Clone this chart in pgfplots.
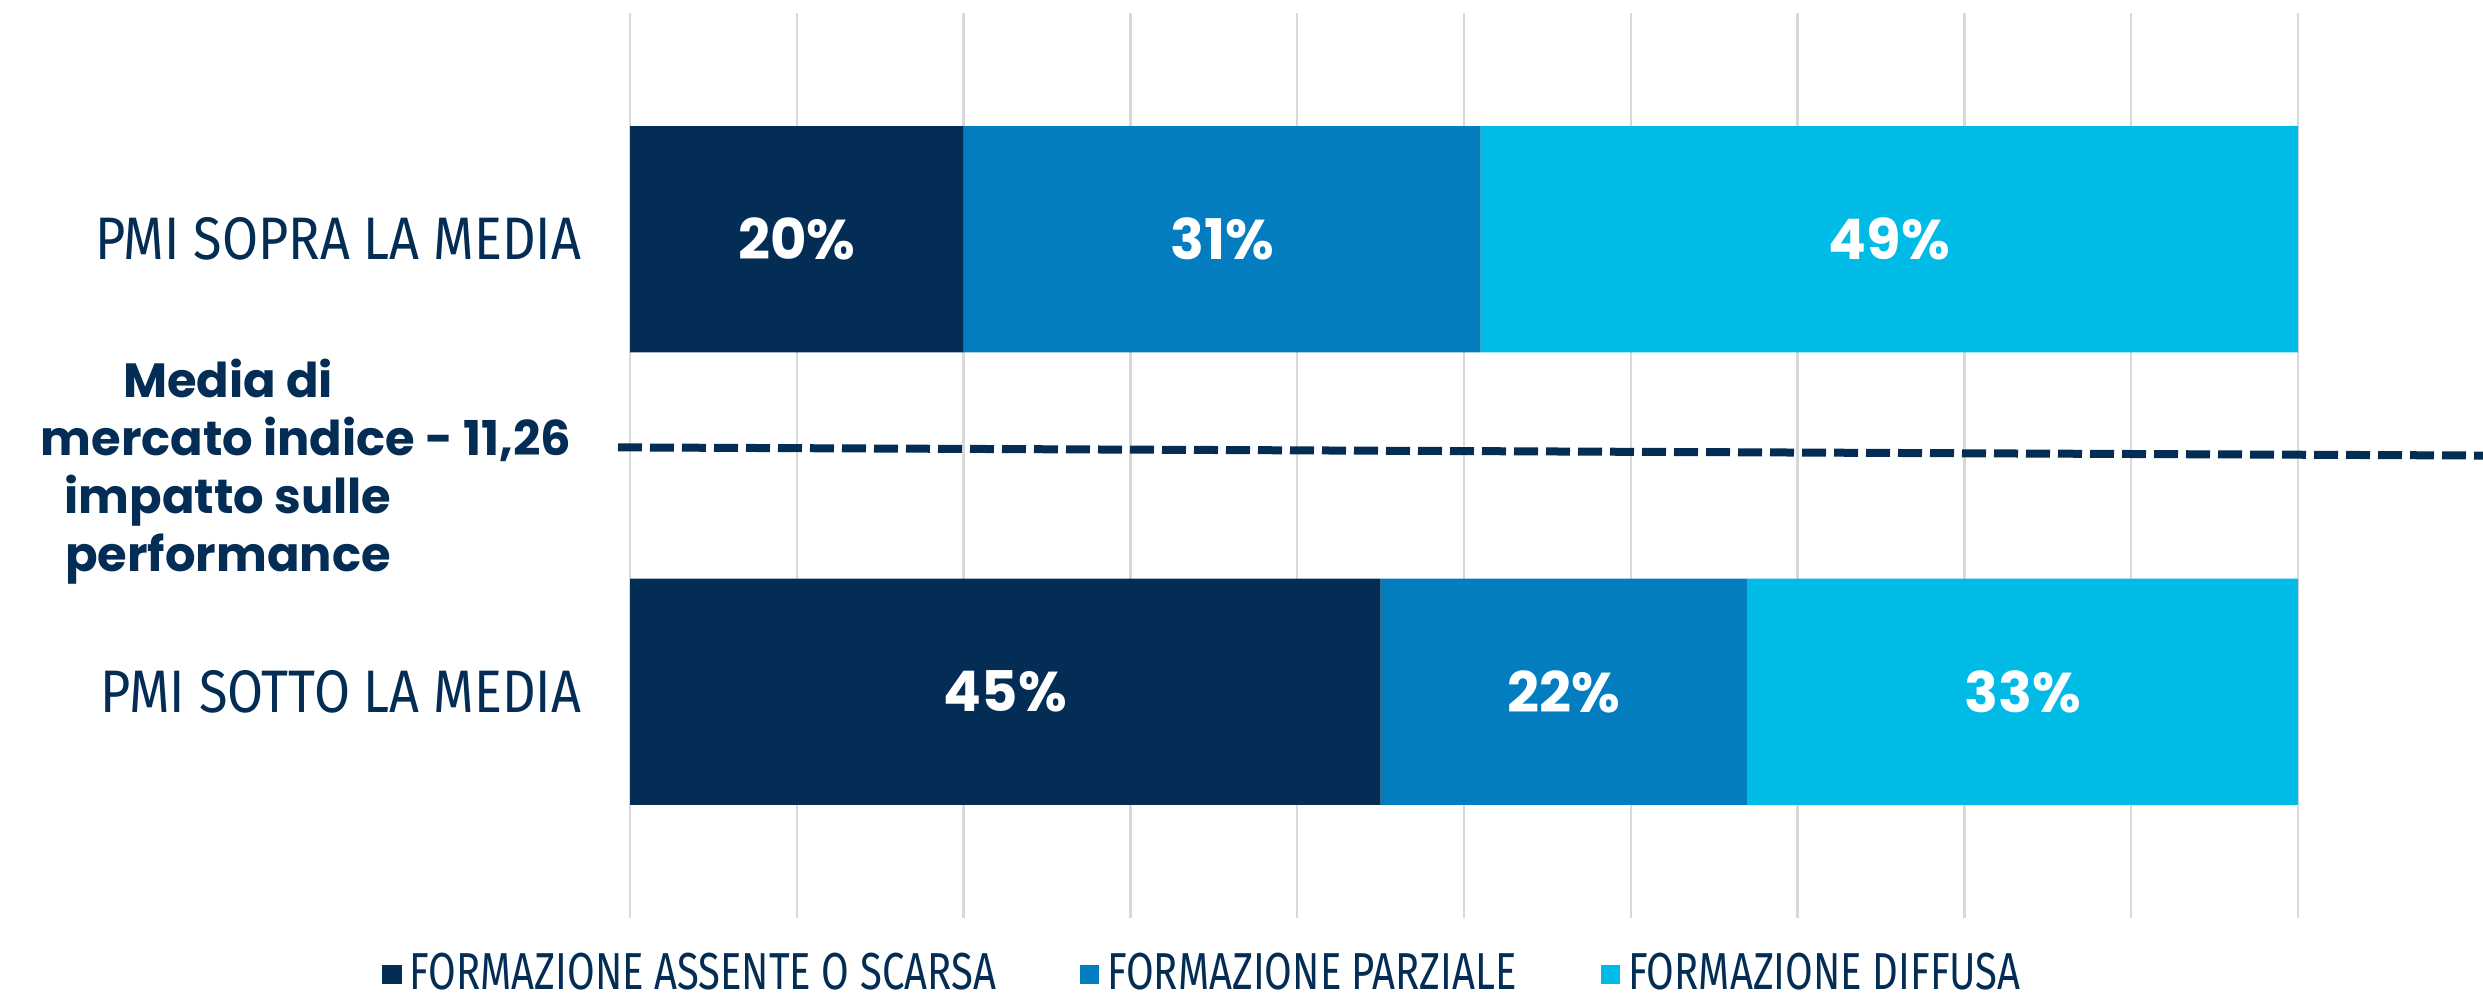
\documentclass[border=0pt]{standalone}
\usepackage{pgfplots}
\pgfplotsset{compat=1.18}
\usepackage{fontspec}
\setmainfont{Fira Sans}
\newfontfamily\condfont[FakeStretch=0.87]{Fira Sans}
\newfontfamily\legfont[FakeStretch=0.77]{Fira Sans}
\newfontfamily\popfont{Poppins}
\definecolor{navy}{HTML}{032D55}
\definecolor{midblue}{HTML}{037DC0}
\definecolor{lightblue}{HTML}{00BBE5}
\definecolor{gridgray}{HTML}{D9D9D9}
\begin{document}
\begin{tikzpicture}
\path[use as bounding box] (0,0) rectangle (620.75pt,249pt);
\pgfplotsset{base/.style={at={(157.5pt,19.5pt)}, anchor=south west, scale only axis,
  width=417pt, height=226.25pt, xmin=0, xmax=100, ymin=-0.5, ymax=1.5,
  axis line style={draw=none}, tick style={draw=none}}}
\begin{axis}[base, xbar stacked, bar width=0.5,
  xtick={0,10,...,100}, xticklabels={}, xmajorgrids,
  grid style={gridgray, line width=0.6pt},
  ytick={0,1}, yticklabels={PMI SOTTO LA MEDIA, PMI SOPRA LA MEDIA},
  yticklabel style={font=\condfont\fontsize{15}{18}\selectfont, text=navy, anchor=east, inner sep=0pt, xshift=-12pt},
  legend style={at={(0.345,-0.062)}, anchor=center, draw=none, fill=none, legend columns=3,
    font=\legfont\fontsize{13}{14}\selectfont, text=navy,
    /tikz/every even column/.append style={column sep=19pt}},
  legend image code/.code={\fill[#1] (0pt,-2.4pt) rectangle (4.8pt,2.4pt);}]
\addplot[fill=navy, draw=none] coordinates {(45,0) (20,1)};
\addlegendentry{FORMAZIONE ASSENTE O SCARSA}
\addplot[fill=midblue, draw=none] coordinates {(22,0) (31,1)};
\addlegendentry{FORMAZIONE PARZIALE}
\addplot[fill=lightblue, draw=none] coordinates {(33,0) (49,1)};
\addlegendentry{FORMAZIONE DIFFUSA}
\end{axis}
\begin{axis}[base, hide axis, clip=false]
\addplot[navy, line width=2pt, dash pattern=on 6pt off 2pt] coordinates {(-0.72,0.540) (111.1,0.522)};
\addplot[draw=none, mark=none, point meta=explicit symbolic, nodes near coords,
  every node near coord/.append style={anchor=center, text=white, font=\popfont\bfseries\fontsize{14}{16}\selectfont}]
  coordinates {(10,1) [20\%] (35.5,1) [31\%] (75.5,1) [49\%] (22.5,0) [45\%] (56,0) [22\%] (83.5,0) [33\%]};
\end{axis}
\node[align=center, font=\popfont\bfseries\fontsize{12}{14.5}\selectfont, text=navy, anchor=center]
  at (57pt,131pt) {Media di\\mercato indice\rlap{ - 11,26}\\impatto sulle\\performance};
\end{tikzpicture}
\end{document}
